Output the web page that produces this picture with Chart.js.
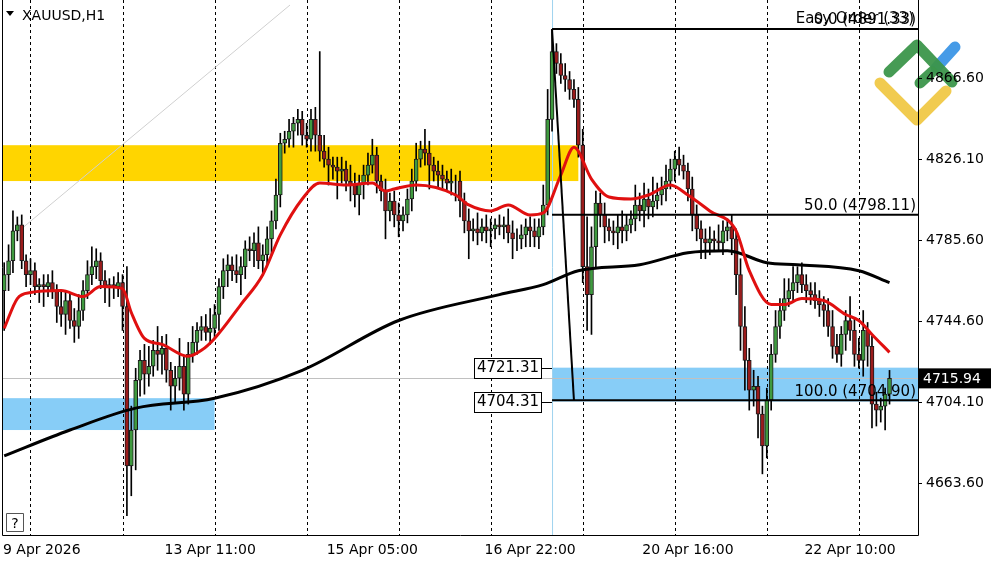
<!DOCTYPE html>
<html>
<head>
<title>XAUUSD H1</title>
<script src="https://cdn.jsdelivr.net/npm/chart.js"></script>
<style>
  body { margin: 0; background: #fff; }
  #wrap { width: 1000px; height: 562px; position: relative; }
</style>
</head>
<body>
<div id="wrap"><canvas id="xau" width="1000" height="562"></canvas></div>
<script>
    // hourly closes
    var closes = [
        4768,4775,4790,4793,4775,4768,4770,4762,4763,4762,
        4764,4760,4752,4748,4755,4745,4742,4750,4760,4768,
        4772,4775,4765,4762,4763,4762,4764,4752,4672,4690,
        4715,4725,4718,4722,4730,4728,4731,4720,4712,4716,
        4722,4708,4728,4734,4740,4742,4739,4741,4748,4762,
        4770,4773,4770,4768,4772,4781,4780,4784,4775,4778,
        4786,4795,4808,4834,4836,4840,4844,4846,4838,4836,
        4846,4838,4830,4826,4823,4822,4820,4821,4815,4813,
        4808,4814,4818,4823,4828,4815,4810,4800,4805,4798,
        4795,4798,4806,4815,4826,4831,4829,4823,4820,4818,
        4816,4814,4815,4815,4805,4795,4790,4791,4789,4792,
        4790,4791,4793,4792,4793,4789,4786,4786,4788,4792,
        4790,4787,4792,4803,4846,4880,4874,4868,4866,4861,
        4856,4833,4772,4758,4782,4804,4798,4792,4790,4789,
        4792,4790,4793,4796,4803,4800,4806,4802,4805,4808,
        4811,4815,4821,4826,4823,4820,4811,4798,4791,4786,
        4784,4786,4785,4784,4790,4792,4786,4768,4742,4725,
        4710,4712,4698,4682,4705,4728,4742,4750,4756,4760,
        4764,4768,4763,4760,4758,4755,4753,4750,4742,4732,
        4728,4738,4745,4740,4728,4725,4740,4732,4703,4700,
        4702,4708,4715.94
    ];
    var firstOpen = 4760;
    var hiExt = [
        6,8,10,4,5,3,6,4,3,5, 4,6,3,8,5,4,6,8,5,7, 10,6,4,5,3,4,5,4,20,12,
        6,5,8,10,5,12,6,7,4,6, 14,5,6,8,4,5,6,10,5,4, 6,5,4,8,5,4,6,5,8,5,
        6,5,8,5,4,6,3,5,4,6, 5,6,42,8,6,4,5,6,4,8, 6,4,5,6,8,4,3,6,4,5,
        6,4,5,6,8,4,10,6,4,5, 5,4,6,3,5,4,6,5,8,4, 6,5,3,5,4,8,6,5,5,4,
        5,6,4,10,15,11,4,5,6,4, 5,6,8,25,10,6,5,6,4,5, 6,8,5,4,10,6,8,5,12,6,
        6,8,5,4,6,5,4,6,5,4, 5,6,4,8,5,4,6,5,8,10, 6,8,5,4,6,5,8,6,10,6,
        8,4,6,5,4,6,5,4,6,8, 6,4,5,12,6,8,10,4,5,6, 4,3,4
    ];
    var loExt = [
        20,8,6,5,4,6,5,4,8,10, 5,4,8,6,10,4,8,6,5,4, 5,6,4,8,10,6,5,12,25,15,
        20,8,10,6,5,8,10,6,12,8, 6,8,5,4,6,5,4,6,5,8, 6,8,5,4,10,6,5,8,4,6,
        5,8,4,6,5,4,8,6,5,4, 6,8,5,4,10,6,14,6,5,8, 6,10,8,5,4,6,5,14,5,6,
        8,5,4,6,5,4,6,12,5,6, 5,4,6,10,8,6,14,5,6,4, 6,8,5,4,6,5,10,6,5,6,
        8,5,6,4,5,6,5,4,6,5, 4,6,8,18,20,10,6,8,5,6, 8,6,5,4,6,5,8,6,5,4,
        5,6,4,6,5,4,6,8,6,10, 8,6,5,4,6,5,8,10,12,15, 10,8,12,14,6,5,4,6,5,4,
        6,5,4,6,5,4,6,8,5,6, 4,6,8,5,6,4,8,10,12,8, 6,12,5
    ];
    var slots = 209;

    // moving averages, read at a few bars
    var redMaIdx = [0,3,6,13,18,22,27,29,32,36,42,45,48,54,59,63,68,72,78,84,87,89,94,103,106,111,115,120,123,127,130,134,138,143,147,152,156,161,167,170,175,178,182,187,192,195,198,202];
    var redMaVal = [4741,4756,4759,4760,4757,4762,4761,4749,4736,4733,4727,4730,4736,4753,4768,4788,4806,4814,4813,4814,4810,4811,4813,4808,4803,4800,4803,4798,4799,4818,4832,4816,4807,4806,4808,4813,4808,4800,4790,4770,4753,4753,4756,4755,4748,4745,4738,4729];
    var blackMaIdx = [0,15,30,48,68,90,113,123,131,145,156,165,174,181,195,202];
    var blackMaVal = [4677,4690,4701,4706,4720,4745,4758,4763,4770,4773,4779,4780,4774,4773,4770,4764];

    var priceTicks = [4866.60, 4826.10, 4785.60, 4744.60, 4704.10, 4663.60];
    var timeLabels = ['9 Apr 2026', '13 Apr 11:00', '15 Apr 05:00', '16 Apr 22:00', '20 Apr 16:00', '22 Apr 10:00'];
    var timeLabelIdx = [0, 47, 84, 120, 156, 193];
    var gridIdx = [6, 27, 48, 69, 90, 111, 132, 153, 174, 195];

    var yellowZone = [4815, 4833];
    var blueZoneLeft = [4690, 4706];
    var blueZoneRight = [4704.31, 4721.31];
    var fibLevels = [4891.33, 4798.11, 4704.90];
    var fibNames = ['0.0 (4891.33)', '50.0 (4798.11)', '100.0 (4704.90)'];
    var lastPrice = 4715.94;

    var opens = [], bodies = [], wicks = [];
    for (var i = 0; i < closes.length; i++) {
        var o = i == 0 ? firstOpen : closes[i - 1];
        var c = closes[i];
        opens.push(o);
        bodies.push([o, c]);
        wicks.push([Math.min(o, c) - loExt[i], Math.max(o, c) + hiExt[i]]);
    }
    var labels = [];
    for (var i = 0; i < slots; i++) labels.push(i);

    function pts(idx, val) {
        return idx.map(function (v, k) { return {x: v, y: val[k]}; });
    }

    var FONT = '14px "DejaVu Sans"';

    var decor = {
        id: 'decor',
        beforeDatasetsDraw: function (chart) {
            var ctx = chart.ctx, x = chart.scales.x, y = chart.scales.y, a = chart.chartArea;
            ctx.save();
            // zones
            ctx.fillStyle = '#ffd500';
            ctx.fillRect(a.left, y.getPixelForValue(yellowZone[1]), x.getPixelForValue(131) - a.left, y.getPixelForValue(yellowZone[0]) - y.getPixelForValue(yellowZone[1]));
            ctx.fillStyle = '#87cdf7';
            ctx.fillRect(a.left, y.getPixelForValue(blueZoneLeft[1]), x.getPixelForValue(48) - a.left, y.getPixelForValue(blueZoneLeft[0]) - y.getPixelForValue(blueZoneLeft[1]));
            var xs = x.getPixelForValue(125);
            ctx.fillRect(xs, y.getPixelForValue(blueZoneRight[1]), a.right - xs, y.getPixelForValue(blueZoneRight[0]) - y.getPixelForValue(blueZoneRight[1]));
            // grid
            ctx.strokeStyle = '#000';
            ctx.lineWidth = 1;
            ctx.setLineDash([3, 3]);
            gridIdx.forEach(function (g) {
                var px = Math.round(x.getPixelForValue(g)) + 0.5;
                ctx.beginPath(); ctx.moveTo(px, a.top); ctx.lineTo(px, a.bottom); ctx.stroke();
            });
            ctx.setLineDash([]);
            // thin light trend line
            ctx.strokeStyle = '#d0d0d0';
            ctx.beginPath(); ctx.moveTo(20, 230); ctx.lineTo(290, 5); ctx.stroke();
            // vertical light blue at the swing high
            ctx.strokeStyle = '#9fd3ef';
            ctx.beginPath(); ctx.moveTo(xs + 0.5, a.top); ctx.lineTo(xs + 0.5, a.bottom); ctx.stroke();
            // last price line
            var yl = Math.round(y.getPixelForValue(lastPrice)) + 0.5;
            ctx.strokeStyle = '#c0c0c0';
            ctx.beginPath(); ctx.moveTo(a.left, yl); ctx.lineTo(a.right, yl); ctx.stroke();
            ctx.restore();
        },
        afterDatasetsDraw: function (chart) {
            var ctx = chart.ctx, x = chart.scales.x, y = chart.scales.y, a = chart.chartArea;
            ctx.save();
            var xs = x.getPixelForValue(125);
            // fibo
            ctx.strokeStyle = '#000';
            ctx.lineWidth = 2;
            fibLevels.forEach(function (f) {
                var py = y.getPixelForValue(f);
                ctx.beginPath(); ctx.moveTo(xs, py); ctx.lineTo(a.right, py); ctx.stroke();
            });
            ctx.beginPath();
            ctx.moveTo(xs, y.getPixelForValue(fibLevels[0]));
            ctx.lineTo(x.getPixelForValue(130), y.getPixelForValue(fibLevels[2]));
            ctx.stroke();
            ctx.font = '15px "DejaVu Sans"';
            ctx.fillStyle = '#000';
            ctx.textAlign = 'right';
            ctx.textBaseline = 'bottom';
            fibNames.forEach(function (n, k) {
                ctx.fillText(n, a.right - 2, y.getPixelForValue(fibLevels[k]) - 1);
            });
            ctx.fillText('Easy Order (33)', a.right - 4, 27);
            // zone price tags
            ctx.lineWidth = 1;
            ctx.font = '15px "DejaVu Sans"';
            ctx.textAlign = 'center';
            ctx.textBaseline = 'middle';
            blueZoneRight.forEach(function (v) {
                var py = Math.round(y.getPixelForValue(v)) + 0.5;
                var by = py - 10;
                ctx.fillStyle = '#fff';
                ctx.fillRect(474.5, by, 67, 20);
                ctx.strokeRect(474.5, by, 67, 20);
                ctx.beginPath(); ctx.moveTo(541.5, py); ctx.lineTo(xs, py); ctx.stroke();
                ctx.fillStyle = '#000';
                ctx.fillText(v.toFixed(2), 508, by + 10);
            });
            // logo
            ctx.lineCap = 'round';
            ctx.lineJoin = 'round';
            ctx.lineWidth = 11;
            ctx.strokeStyle = 'rgba(240,200,70,0.95)';
            ctx.beginPath(); ctx.moveTo(880, 83); ctx.lineTo(917, 120); ctx.lineTo(946, 91); ctx.stroke();
            ctx.strokeStyle = 'rgba(60,150,230,0.95)';
            ctx.beginPath(); ctx.moveTo(936, 68); ctx.lineTo(955, 47); ctx.stroke();
            ctx.strokeStyle = 'rgba(60,150,75,0.95)';
            ctx.beginPath(); ctx.moveTo(889, 72); ctx.lineTo(917, 45); ctx.lineTo(952, 82); ctx.stroke();
            ctx.beginPath(); ctx.moveTo(920, 83); ctx.lineTo(932, 72); ctx.stroke();
            ctx.lineCap = 'butt';
            // frame
            ctx.lineWidth = 1;
            ctx.strokeStyle = '#000';
            ctx.beginPath();
            ctx.moveTo(2.5, 0); ctx.lineTo(2.5, a.bottom + 0.5);
            ctx.lineTo(a.right + 0.5, a.bottom + 0.5); ctx.lineTo(a.right + 0.5, 0);
            ctx.stroke();
            // price axis
            ctx.font = FONT;
            ctx.textAlign = 'left';
            ctx.textBaseline = 'middle';
            ctx.fillStyle = '#000';
            priceTicks.forEach(function (p) {
                var py = Math.round(y.getPixelForValue(p)) + 0.5;
                ctx.beginPath(); ctx.moveTo(a.right, py); ctx.lineTo(a.right + 4, py); ctx.stroke();
                ctx.fillText(p.toFixed(2), a.right + 8, py);
            });
            var yl = y.getPixelForValue(lastPrice);
            ctx.fillStyle = '#000';
            ctx.fillRect(a.right + 1, yl - 10, 72, 20);
            ctx.fillStyle = '#fff';
            ctx.fillText(lastPrice.toFixed(2), a.right + 5, yl + 1);
            // time axis
            ctx.fillStyle = '#000';
            ctx.textBaseline = 'alphabetic';
            timeLabels.forEach(function (t, k) {
                var px = x.getPixelForValue(timeLabelIdx[k]);
                ctx.textAlign = k == 0 ? 'left' : 'center';
                ctx.fillText(t, k == 0 ? 3 : px, 554);
            });
            // title
            ctx.textAlign = 'left';
            ctx.fillText('XAUUSD,H1', 22, 20);
            ctx.beginPath(); ctx.moveTo(6, 11); ctx.lineTo(14, 11); ctx.lineTo(10, 16); ctx.closePath(); ctx.fill();
            // help box
            ctx.fillStyle = '#fff';
            ctx.fillRect(6.5, 513.5, 17, 18);
            ctx.strokeStyle = '#555';
            ctx.strokeRect(6.5, 513.5, 17, 18);
            ctx.fillStyle = '#000';
            ctx.textAlign = 'center';
            ctx.fillText('?', 15, 528);
            ctx.restore();
        }
    };

    new Chart(document.getElementById('xau'), {
        type: 'bar',
        data: {
            labels: labels,
            datasets: [{
                label: 'wick',
                data: wicks,
                backgroundColor: '#000',
                barThickness: 1,
                grouped: false,
                order: 3
            }, {
                label: 'body',
                data: bodies,
                backgroundColor: function (c) {
                    var v = c.raw;
                    return v && v[1] >= v[0] ? '#3f9a3f' : '#9b1c1c';
                },
                borderColor: '#1a1a1a',
                borderWidth: 1,
                borderSkipped: false,
                barThickness: 4,
                grouped: false,
                order: 2
            }, {
                type: 'line',
                label: 'MA slow',
                data: pts(blackMaIdx, blackMaVal),
                borderColor: '#000',
                borderWidth: 3,
                pointRadius: 0,
                cubicInterpolationMode: 'monotone',
                order: 1
            }, {
                type: 'line',
                label: 'MA fast',
                data: pts(redMaIdx, redMaVal),
                borderColor: '#e01010',
                borderWidth: 3,
                pointRadius: 0,
                cubicInterpolationMode: 'monotone',
                order: 0
            }]
        },
        options: {
            responsive: false,
            animation: false,
            layout: {padding: {left: 2, right: 82, top: 0, bottom: 27}},
            plugins: {legend: {display: false}, tooltip: {enabled: false}},
            scales: {
                x: {display: false, offset: true},
                y: {display: false, min: 4637.3, max: 4905.9}
            }
        },
        plugins: [decor]
    });
</script>
</body>
</html>
